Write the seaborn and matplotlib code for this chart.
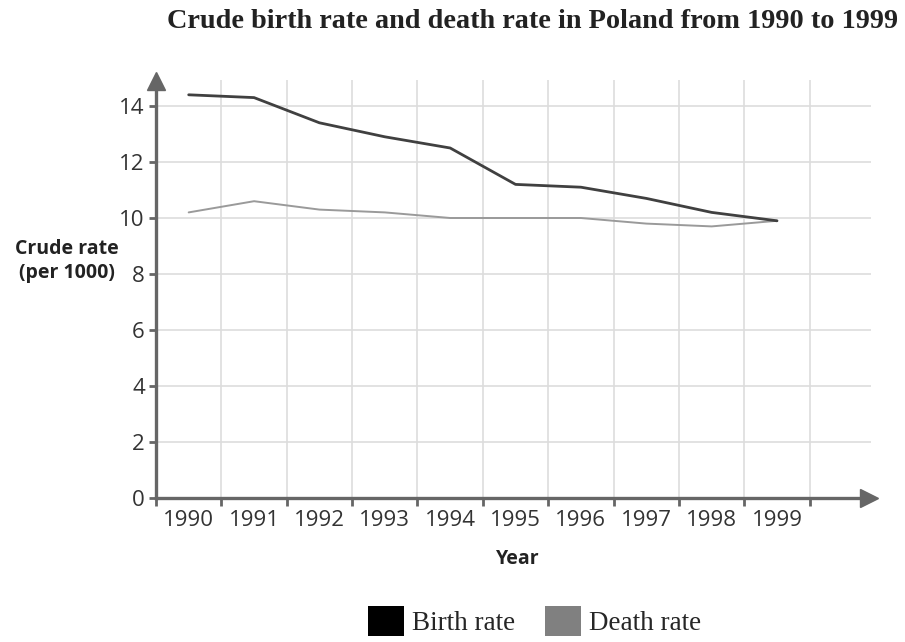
import numpy as np
import pandas as pd
import matplotlib
matplotlib.use("Agg")
import matplotlib.pyplot as plt
import seaborn as sns
from matplotlib.patches import Patch

# data
years = [1990, 1991, 1992, 1993, 1994, 1995, 1996, 1997, 1998, 1999]
birth_rate = [14.4, 14.3, 13.4, 12.9, 12.5, 11.2, 11.1, 10.7, 10.2, 9.9]
death_rate = [10.2, 10.6, 10.3, 10.2, 10.0, 10.0, 10.0, 9.8, 9.7, 9.9]
y_ticks = [0, 2, 4, 6, 8, 10, 12, 14]
title = "Crude birth rate and death rate in Poland from 1990 to 1999"

sns.set_theme(style="white")
plt.rcParams["font.family"] = ["Open Sans", "DejaVu Sans"]

# categories sit between grid lines, so points go at i + 0.5
pos = np.arange(len(years)) + 0.5
df = pd.DataFrame({
    "pos": np.concatenate([pos, pos]),
    "rate": birth_rate + death_rate,
    "series": ["Birth rate"] * len(years) + ["Death rate"] * len(years),
})

fig = plt.figure(figsize=(9.05, 6.42), dpi=100)
ax = fig.add_axes([156 / 905, 144 / 642, 723 / 905, 425.6 / 642])

axis_col = "#666666"
grid_col = "#dddddd"
x_max = 11.06
y_max = 15.2

# grid
ax.hlines(y_ticks, 0, 10.93, color=grid_col, lw=1.2, zorder=0)
ax.vlines(np.arange(1, len(years) + 1), 0, 14.93, color=grid_col, lw=1.2, zorder=0)

sns.lineplot(data=df[df.series == "Birth rate"], x="pos", y="rate",
             color="#404040", linewidth=2.0, ax=ax, legend=False, zorder=3)
sns.lineplot(data=df[df.series == "Death rate"], x="pos", y="rate",
             color="#9a9a9a", linewidth=1.4, ax=ax, legend=False, zorder=2)

ax.set_xlim(0, x_max)
ax.set_ylim(0, y_max)

for s in ["top", "right"]:
    ax.spines[s].set_visible(False)
for s in ["left", "bottom"]:
    ax.spines[s].set_color(axis_col)
    ax.spines[s].set_linewidth(2.4)
ax.spines["bottom"].set_bounds(0, 10.9)
ax.spines["left"].set_bounds(0, 14.9)

# arrow heads
ax.plot(10.9, 0, marker=">", color=axis_col, markersize=13, clip_on=False, zorder=5)
ax.plot(0, 14.9, marker="^", color=axis_col, markersize=13, clip_on=False, zorder=5)

# x ticks: marks on grid lines, labels centred in each category
ax.set_xticks(np.arange(0, len(years) + 1))
ax.set_xticklabels([])
ax.set_xticks(pos, minor=True)
ax.set_xticklabels([str(y) for y in years], minor=True)
ax.tick_params(axis="x", which="major", direction="out", length=6, width=2,
               color=axis_col, bottom=True)
ax.tick_params(axis="x", which="minor", length=0, pad=9, labelsize=16,
               labelcolor="#333333", bottom=True)

ax.set_yticks(y_ticks)
ax.tick_params(axis="y", direction="out", length=5, width=2, color=axis_col,
               pad=3, labelsize=16, labelcolor="#333333", left=True)

ax.set_xlabel("Year", fontsize=14, fontweight="bold", color="#222222")
ax.xaxis.set_label_coords(0.5, -0.12)
ax.set_ylabel("Crude rate\n(per 1000)", fontsize=14, fontweight="bold",
              color="#222222", rotation=0, ha="center", va="center",
              linespacing=1.3)
ax.yaxis.set_label_coords(-0.123, 0.557)

fig.text(533 / 905, 1 - 21 / 642, title, ha="center", va="center",
         fontsize=20.3, fontweight="bold", family="Liberation Serif",
         color="#222222")

handles = [Patch(facecolor="#000000", edgecolor="none"),
           Patch(facecolor="#808080", edgecolor="none")]
fig.legend(handles, ["Birth rate", "Death rate"], loc="upper left",
           bbox_to_anchor=(368 / 905, 1 - 606 / 642), ncol=2, frameon=False,
           borderpad=0, borderaxespad=0, handlelength=1.33, handleheight=1.33,
           handletextpad=0.3, columnspacing=1.1,
           prop={"family": "Liberation Serif", "size": 19.5})

fig.savefig("out.png", dpi=100)
